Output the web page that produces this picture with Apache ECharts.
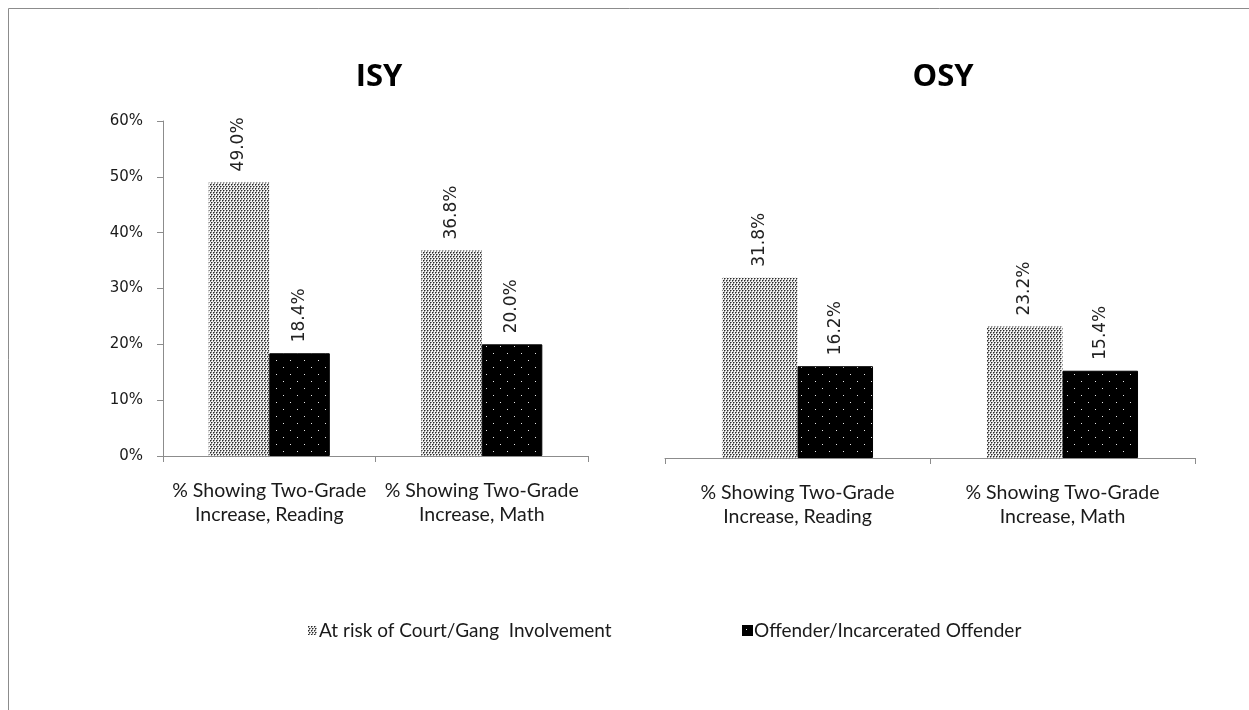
<!DOCTYPE html>
<html>
<head>
<meta charset="utf-8">
<script src="https://cdn.jsdelivr.net/npm/echarts@6/dist/echarts.min.js"></script>
<style>
html,body{margin:0;padding:0;background:#fff;}
#chart{width:1249px;height:710px;}
</style>
</head>
<body>
<div id="chart"></div>
<script>
// ---- data ----
var categories = ['% Showing Two-Grade\nIncrease, Reading', '% Showing Two-Grade\nIncrease, Math'];
var seriesNames = ['At risk of Court/Gang  Involvement', 'Offender/Incarcerated Offender'];
var panelTitles = ['ISY', 'OSY'];
var isyAtRisk = [49.0, 36.8];
var isyOffender = [18.4, 20.0];
var osyAtRisk = [31.8, 23.2];
var osyOffender = [16.2, 15.4];
var yTicks = [0, 10, 20, 30, 40, 50, 60];

// ---- patterns ----
function makeLight() {
  var c = document.createElement('canvas');
  c.width = 6; c.height = 4;
  var g = c.getContext('2d');
  g.fillStyle = '#f4f4f4'; g.fillRect(0, 0, 6, 4);
  g.fillStyle = '#2a2a2a';
  [[0,0],[3,0],[1,2],[4,2]].forEach(function (p) { g.fillRect(p[0], p[1], 1, 1); });
  g.fillStyle = '#8a8a8a';
  [[1,0],[4,0],[2,2],[5,2],[0,1],[3,1],[1,3],[4,3]].forEach(function (p) { g.fillRect(p[0], p[1], 1, 1); });
  return c;
}
function makeDark() {
  var c = document.createElement('canvas');
  c.width = 14; c.height = 14;
  var g = c.getContext('2d');
  g.fillStyle = '#000000'; g.fillRect(0, 0, 14, 14);
  g.fillStyle = '#e8e8e8';
  [[3,3],[10,10]].forEach(function (p) { g.fillRect(p[0], p[1], 1, 1); });
  return c;
}
var lightFill = { image: makeLight(), repeat: 'repeat' };
var darkFill = { image: makeDark(), repeat: 'repeat' };

var labelFont = 'DejaVu Sans';
var textFont = 'Lato';
var axisGray = '#8c8c8c';

function barLabel() {
  return {
    show: true, position: 'top', rotate: 90, align: 'left', verticalAlign: 'middle',
    distance: 11, fontFamily: labelFont, fontSize: 17, color: '#222',
    formatter: function (p) { return p.value.toFixed(1) + '%'; }
  };
}
function xAxisCfg(gi) {
  return {
    type: 'category', gridIndex: gi, data: categories,
    axisLine: { show: true, lineStyle: { color: axisGray, width: 1 } },
    axisTick: { show: true, length: 6, inside: false, lineStyle: { color: axisGray } },
    axisLabel: { margin: 23, fontFamily: textFont, fontSize: 19.5, lineHeight: 24, color: '#1a1a1a', interval: 0 }
  };
}

var chart = echarts.init(document.getElementById('chart'), null, { renderer: 'canvas' });
chart.setOption({
  backgroundColor: '#ffffff',
  animation: false,
  title: [
    { text: panelTitles[0], left: 374, top: 57, textAlign: 'center',
      textStyle: { fontFamily: 'Open Sans', fontWeight: 'bold', fontSize: 31, color: '#000' } },
    { text: panelTitles[1], left: 938, top: 57, textAlign: 'center',
      textStyle: { fontFamily: 'Open Sans', fontWeight: 'bold', fontSize: 31, color: '#000' } }
  ],
  legend: [
    { data: [seriesNames[0]], left: 303, top: 616, icon: 'rect', itemWidth: 9, itemHeight: 9, itemGap: 6,
      textStyle: { fontFamily: textFont, fontSize: 19, color: '#1a1a1a', padding: [0, 0, 0, -3] } },
    { data: [seriesNames[1]], left: 737, top: 616, icon: 'rect', itemWidth: 9, itemHeight: 9, itemGap: 6,
      textStyle: { fontFamily: textFont, fontSize: 19, color: '#1a1a1a', padding: [0, 0, 0, -3] } }
  ],
  grid: [
    { left: 163, right: 661, top: 121, bottom: 254 },
    { left: 665, right: 54, top: 118, bottom: 252 }
  ],
  xAxis: [xAxisCfg(0), xAxisCfg(1)],
  yAxis: [
    { type: 'value', gridIndex: 0, min: yTicks[0], max: yTicks[yTicks.length - 1], interval: 10,
      axisLine: { show: true, lineStyle: { color: axisGray, width: 1 } },
      axisTick: { show: true, length: 6, lineStyle: { color: axisGray } },
      splitLine: { show: false },
      axisLabel: { margin: 20, fontFamily: labelFont, fontSize: 15, color: '#1a1a1a',
        formatter: function (v) { return v + '%'; } } },
    { type: 'value', gridIndex: 1, min: yTicks[0], max: yTicks[yTicks.length - 1], interval: 10, show: false,
      splitLine: { show: false } }
  ],
  series: [
    { name: seriesNames[0], type: 'bar', xAxisIndex: 0, yAxisIndex: 0, data: isyAtRisk,
      barGap: '0%', barCategoryGap: '43%', itemStyle: { color: lightFill }, label: barLabel() },
    { name: seriesNames[1], type: 'bar', xAxisIndex: 0, yAxisIndex: 0, data: isyOffender,
      barGap: '0%', barCategoryGap: '43%', itemStyle: { color: darkFill, borderColor: '#000', borderWidth: 1 }, label: barLabel() },
    { name: seriesNames[0], type: 'bar', xAxisIndex: 1, yAxisIndex: 1, data: osyAtRisk,
      barGap: '0%', barCategoryGap: '43%', itemStyle: { color: lightFill }, label: barLabel() },
    { name: seriesNames[1], type: 'bar', xAxisIndex: 1, yAxisIndex: 1, data: osyOffender,
      barGap: '0%', barCategoryGap: '43%', itemStyle: { color: darkFill, borderColor: '#000', borderWidth: 1 }, label: barLabel() }
  ],
  graphic: [
    { type: 'rect', silent: true, z: -1,
      shape: { x: 8.5, y: 8.5, width: 1400, height: 900 },
      style: { fill: null, stroke: '#8c8c8c', lineWidth: 1 } }
  ]
});
</script>
</body>
</html>
